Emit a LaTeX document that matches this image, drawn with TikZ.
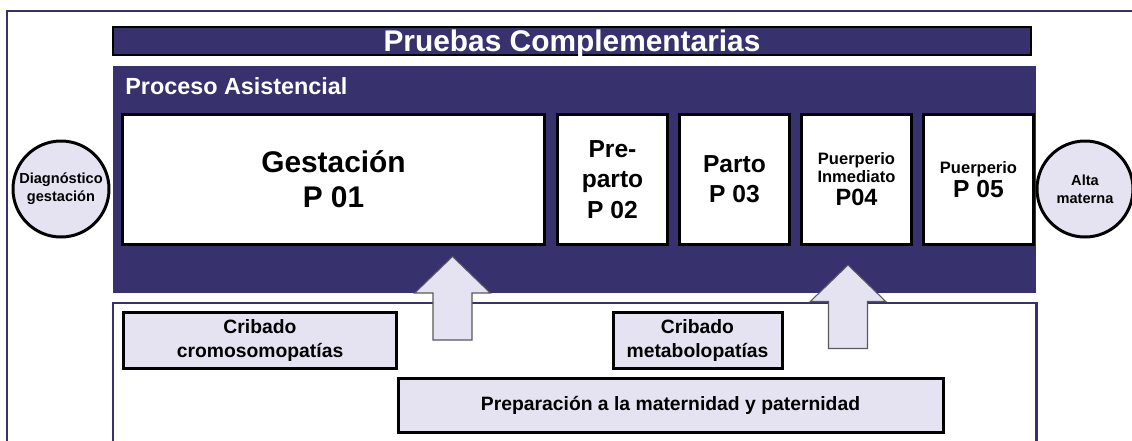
\documentclass[tikz,border=0pt]{standalone}
\usepackage{fontspec}
\setmainfont{Liberation Sans}
\definecolor{azulproc}{RGB}{55,50,110}
\definecolor{lila}{RGB}{229,227,241}

\begin{document}
\begin{tikzpicture}[
  fase/.style={
    draw=black, line width=1.7pt, fill=white,
    minimum width=22mm, minimum height=26mm,
    align=center, font=\fontsize{14}{17.5}\selectfont\bfseries
  },
  prueba/.style={
    draw=black, line width=1.7pt, fill=lila,
    minimum height=11.2mm, align=center,
    font=\fontsize{11}{14}\selectfont\bfseries
  },
  hito/.style={
    circle, draw=black, line width=1.7pt, fill=lila,
    minimum size=19.2mm, inner sep=0pt, align=center,
    font=\fontsize{8.3}{10.2}\selectfont\bfseries
  },
  flecha/.style={draw=black!65, line width=0.6pt, fill=lila}
]
\useasboundingbox (0,0) rectangle (22.64,-8.8);

% ================= MARCO =================
\draw[azulproc, line width=1pt] (0.14,-9) |- (22.8,-0.22);

\node[draw=black, line width=0.6pt, fill=azulproc, text=white,
  minimum width=18.36cm, minimum height=0.56cm, inner sep=0pt, text depth=0pt,
  font=\fontsize{17}{20}\selectfont\bfseries]
  (titulo) at (11.44,-0.82) {Pruebas Complementarias};

% ================= PROCESO ASISTENCIAL =================
\node[fill=azulproc, minimum width=18.46cm, minimum height=4.54cm, inner sep=0pt]
  (asist) at (11.49,-3.59) {};
\node[anchor=west, text=white, inner sep=0pt,
  font=\fontsize{13.3}{16}\selectfont\bfseries]
  (asistlbl) at (2.5,-1.72) {Proceso Asistencial};

\node[fase, minimum width=84.4mm, font=\fontsize{17}{20}\selectfont\bfseries]
  (p01) at (6.67,-3.59) {Gestación\\P 01};
\node[fase] (p02) at (12.25,-3.59) {Pre-\\parto\\P 02};
\node[fase, font=\fontsize{14}{17}\selectfont\bfseries]
  (p03) at (14.69,-3.59) {Parto\\P 03};
\node[fase, font=\fontsize{9.4}{10.2}\selectfont\bfseries]
  (p04) at (17.13,-3.59) {Puerperio\\Inmediato\\[3pt]{\fontsize{13.4}{15}\selectfont P04}};
\node[fase, font=\fontsize{9.4}{11}\selectfont\bfseries]
  (p05) at (19.57,-3.59) {Puerperio\\[1pt]{\fontsize{14}{15}\selectfont P 05}};

% hitos
\node[hito] (diag) at (1.22,-3.78) {Diagnóstico\\gestación};
\node[hito] (alta) at (21.7,-3.78) {Alta\\materna};

% ================= PRUEBAS =================
\draw[azulproc, line width=1.4pt] (2.26,-9) |- (20.73,-6.06) -- (20.73,-9);

\node[prueba, minimum width=54.6mm] (cromo) at (5.2,-6.81) {Cribado\\cromosomopatías};
\node[prueba, minimum width=33.8mm] (metab) at (13.95,-6.81) {Cribado\\metabolopatías};
\node[prueba, minimum width=109mm, minimum height=10.8mm]
  (prep) at (13.41,-8.11) {Preparación a la maternidad y paternidad};

% ================= FLECHAS =================
\foreach \cx/\ty in {9.05/-5.13, 16.96/-5.30}
{
  \draw[flecha] (\cx,\ty) -- ++(0.755,-0.73) -- ++(-0.365,0) -- ++(0,-0.94)
    -- ++(-0.78,0) -- ++(0,0.94) -- ++(-0.365,0) -- cycle;
}

\end{tikzpicture}
\end{document}
